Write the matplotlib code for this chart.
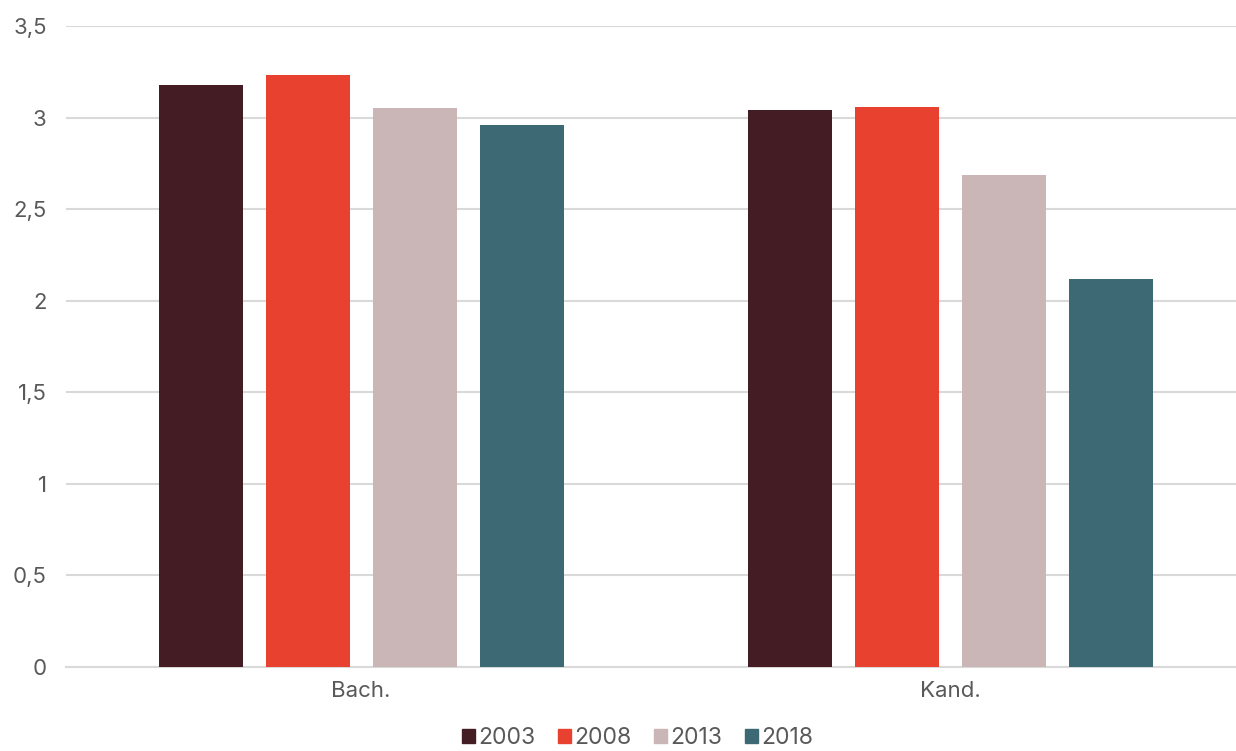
import numpy as np
import matplotlib.pyplot as plt
from matplotlib.patches import Patch

categories = ["Bach.", "Kand."]
years = ["2003", "2008", "2013", "2018"]
values = {
    "2003": [3.18, 3.04],
    "2008": [3.23, 3.06],
    "2013": [3.05, 2.685],
    "2018": [2.96, 2.12],
}
colors = ["#431C24", "#E94130", "#CBB6B7", "#3C6974"]

plt.rcParams['font.family'] = ['Inter', 'DejaVu Sans']

fig = plt.figure(figsize=(12.36, 7.51), dpi=100)
ax = fig.add_axes([0.0535, 0.1123, 0.9544, 0.853])

x = np.arange(len(categories))
width = 0.1424
step = 0.1814
for i, (y, c) in enumerate(zip(years, colors)):
    offset = (i - 1.5) * step
    ax.bar(x + offset, values[y], width, color=c, label=y, zorder=3)

ax.set_xlim(-0.5, 1.5)
ax.set_ylim(0, 3.5)
ax.set_yticks(np.arange(0, 3.51, 0.5))
ax.set_yticklabels(["0", "0,5", "1", "1,5", "2", "2,5", "3", "3,5"])
ax.set_xticks(x)
ax.set_xticklabels(categories)
ax.yaxis.grid(True, color="#D9D9D9", linewidth=1.5, zorder=0)
ax.tick_params(axis="both", length=0, labelsize=16, labelcolor="#595959")
ax.tick_params(axis="y", pad=14)
ax.tick_params(axis="x", pad=10)
for s in ["top", "right", "left"]:
    ax.spines[s].set_visible(False)
ax.spines["bottom"].set_color("#D9D9D9")
ax.spines["bottom"].set_linewidth(1.5)

handles = [Patch(color=c, label=y) for y, c in zip(years, colors)]
leg = fig.legend(handles=handles, loc="center", bbox_to_anchor=(0.516, 0.017),
                 ncol=4, frameon=False, fontsize=16.5, handlelength=0.55,
                 handleheight=0.55, handletextpad=0.15, columnspacing=1.0)
for t in leg.get_texts():
    t.set_color("#595959")

fig.savefig("out.png", dpi=100)
